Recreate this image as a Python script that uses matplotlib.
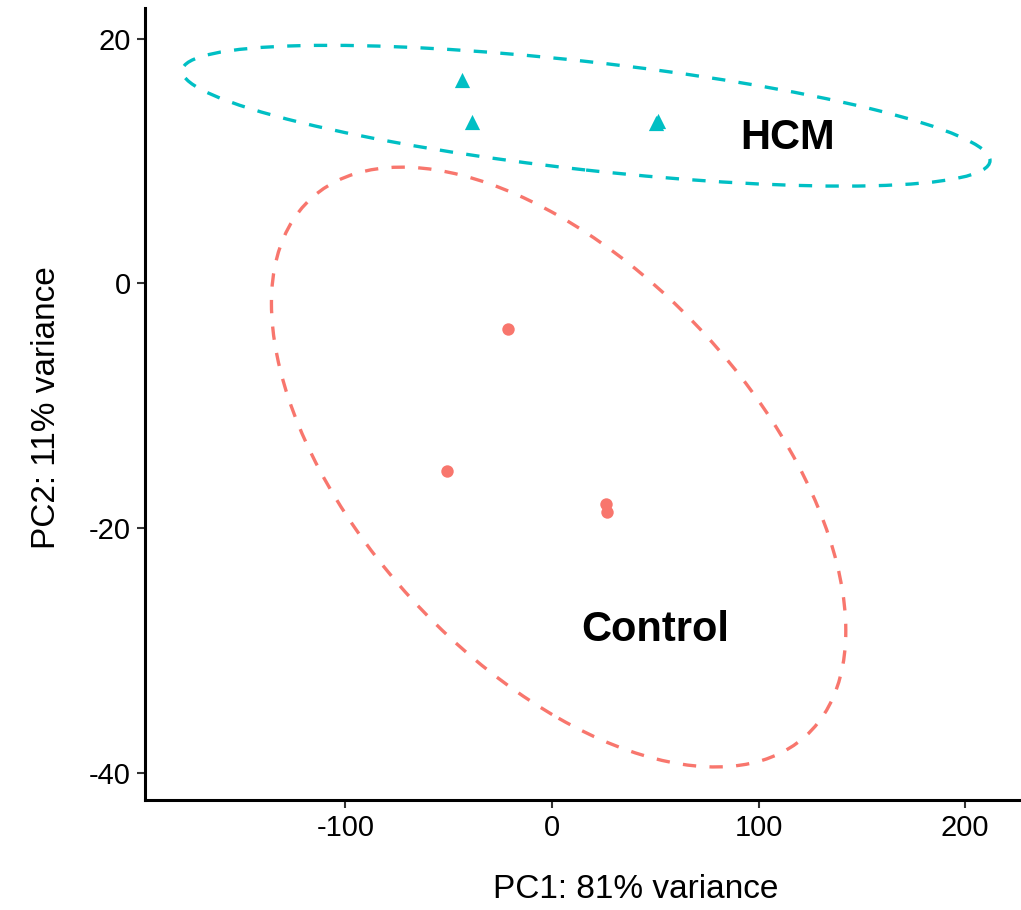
import numpy as np
import matplotlib
matplotlib.use("Agg")
import matplotlib.pyplot as plt
from matplotlib.patches import Ellipse
from matplotlib.transforms import Affine2D

plt.rcParams['font.family'] = ['Liberation Sans', 'DejaVu Sans']
plt.rcParams['axes.unicode_minus'] = False

fig_name = "out.png"

# PCA scores (PC1, PC2) per sample
hcm_pc1 = [-43.6, -38.7, 50.5, 51.2]
hcm_pc2 = [16.6, 13.2, 13.1, 13.3]
ctrl_pc1 = [-21.1, -50.8, 26.0, 26.8]
ctrl_pc2 = [-3.7, -15.3, -18.0, -18.7]

# confidence ellipses: centre and covariance (xx, xy, yy)
hcm_centre = [16.5, 13.7]
hcm_cov = [195.5 ** 2, -715.0, 5.75 ** 2]
ctrl_centre = [3.2, -15.0]
ctrl_cov = [139.0 ** 2, -1860.0, 24.5 ** 2]

xticks = [-100, 0, 100, 200]
yticks = [20, 0, -20, -40]

red = '#F8766D'
teal = '#00BFC4'

fig = plt.figure(figsize=(10.21, 9.10), dpi=100)
ax = fig.add_axes([145 / 1021, 110 / 910, 876 / 1021, 792 / 910])


def add_ellipse(ax, centre, cov, color):
    S = np.array([[cov[0], cov[1]], [cov[1], cov[2]]])
    L = np.linalg.cholesky(S)
    m = np.array([[L[0, 0], L[0, 1], centre[0]],
                  [L[1, 0], L[1, 1], centre[1]],
                  [0, 0, 1]])
    e = Ellipse((0, 0), 2, 2, transform=Affine2D(m) + ax.transData,
                fill=False, edgecolor=color, lw=2.4, linestyle=(0, (4, 4)))
    ax.add_patch(e)


add_ellipse(ax, hcm_centre, hcm_cov, teal)
add_ellipse(ax, ctrl_centre, ctrl_cov, red)

ax.scatter(ctrl_pc1, ctrl_pc2, s=80, marker='o', color=red, linewidths=0, zorder=3)
ax.scatter(hcm_pc1, hcm_pc2, s=120, marker='^', color=teal, linewidths=0, zorder=3)

ax.text(114, 11.9, 'HCM', fontsize=30, fontweight='bold', ha='center', va='center')
ax.text(50, -28.3, 'Control', fontsize=30, fontweight='bold', ha='center', va='center')

ax.set_xlim(-197, 227)
ax.set_ylim(-42.2, 22.5)
ax.set_xticks(xticks)
ax.set_yticks(yticks)
ax.tick_params(axis='both', labelsize=21, length=6, width=1.5, color='#333333', pad=4)

ax.set_xlabel('PC1: 81% variance', fontsize=24)
ax.set_ylabel('PC2: 11% variance', fontsize=24)
ax.xaxis.set_label_coords((636 - 145) / 876, -74 / 792)
ax.yaxis.set_label_coords(-83 / 876, 0.495)

for s in ['top', 'right']:
    ax.spines[s].set_visible(False)
for s in ['left', 'bottom']:
    ax.spines[s].set_linewidth(2.2)
    ax.spines[s].set_color('black')

plt.savefig(fig_name, dpi=100, facecolor='w')
